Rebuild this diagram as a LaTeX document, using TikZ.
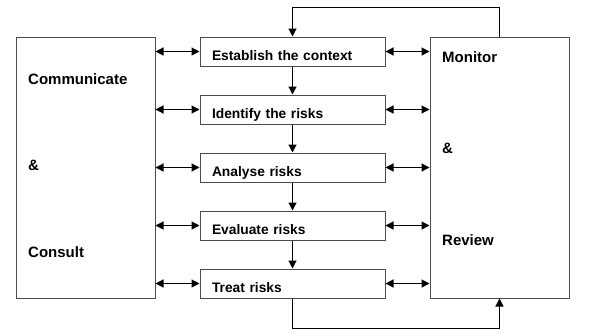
\documentclass[tikz,border=0pt]{standalone}
\usepackage{fontspec}
\setmainfont{Liberation Sans}
\usetikzlibrary{arrows.meta, positioning}

\tikzset{
  stage/.style={draw=gray!60!black, line width=1pt, text width=161pt, align=left,
    inner xsep=12pt, inner ysep=0pt, text height=17pt, text depth=0pt,
    minimum height=29pt, font=\fontsize{13.8}{16}\selectfont\bfseries},
  side/.style={draw=gray!60!black, line width=1pt, minimum width=139pt,
    minimum height=261pt, inner sep=0pt},
  sidetext/.style={anchor=base west, inner sep=0pt,
    font=\fontsize{15}{18}\selectfont\bfseries},
  link/.style={line width=1.2pt, -{Triangle[length=8pt,width=8pt]}},
  both/.style={line width=1.2pt,
    {Triangle[length=8pt,width=8pt]}-{Triangle[length=8pt,width=8pt]}}
}

\begin{document}
\begin{tikzpicture}[x=1pt, y=-1pt]
  \useasboundingbox (0,0) rectangle (600,335);

  % Side boxes
  \node[side] (comm) at (85.5,167.5) {};
  \node[side] (mon) at (499.5,167.5) {};
  \node[sidetext] (commA) at (28,84) {Communicate};
  \node[sidetext] (commB) at (28,170) {\&};
  \node[sidetext] (commC) at (28,257) {Consult};
  \node[sidetext] (monA) at (442,62) {Monitor};
  \node[sidetext] (monB) at (442,153) {\&};
  \node[sidetext] (monC) at (442,245) {Review};

  % Process steps
  \node[stage] (est) at (292.5,51.5) {Establish the context};
  \node[stage] (ident) at (292.5,109.5) {Identify the risks};
  \node[stage] (anal) at (292.5,167.5) {Analyse risks};
  \node[stage] (eval) at (292.5,225.5) {Evaluate risks};
  \node[stage] (treat) at (292.5,283.5) {Treat risks};

  % Flow down the steps
  \draw[link] (est) -- (ident);
  \draw[link] (ident) -- (anal);
  \draw[link] (anal) -- (eval);
  \draw[link] (eval) -- (treat);

  % Links to both side boxes
  \foreach \s in {est, ident, anal, eval, treat} {
    \draw[both] (comm.east |- \s.west) -- (\s.west);
    \draw[both] (\s.east) -- (mon.west |- \s.east);
  }

  % Feedback loops
  \draw[link] (mon.north) -- ++(0,-29) -| (est.north);
  \draw[link] (treat.south) -- ++(0,30) -| (mon.south);
\end{tikzpicture}
\end{document}
